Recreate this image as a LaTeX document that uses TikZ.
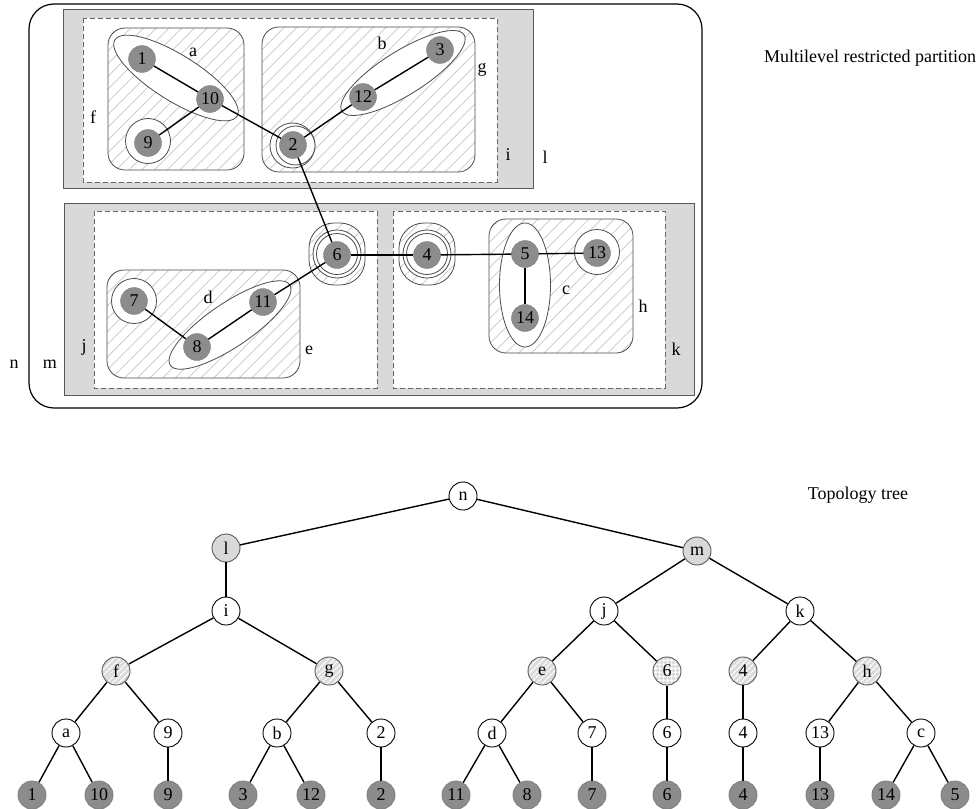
\documentclass[tikz,border=0pt]{standalone}
\usepackage{fontspec}
\setmainfont{Liberation Serif}
\usetikzlibrary{patterns.meta}
\begin{document}
\begin{tikzpicture}[x=1pt, y=-1pt,
        font=\fontsize{18}{20}\selectfont,
        vertex/.style={circle, fill=black!45, draw=black!50, minimum size=27pt, inner sep=0pt},
        link/.style={line width=1.4pt},
        ringwhite/.style={draw=black!70, line width=0.8pt, fill=white},
        hatched/.style={draw=black!70, line width=0.8pt, pattern={Lines[angle=45, distance=9pt, line width=0.7pt]}, pattern color=black!22},
        levelbox/.style={draw=black!65, line width=1pt, fill=black!15},
        partbox/.style={draw=black!60, line width=0.9pt, dash pattern=on 5pt off 3pt, fill=white},
        tnode/.style={circle, draw, fill=white, minimum size=28pt, inner sep=0pt, line width=0.9pt},
        tgray/.style={tnode, fill=black!15, draw=black!65},
        thatch/.style={tnode, draw=black!65, preaction={fill=black!14}, pattern={Lines[angle=45, distance=4pt, line width=1.3pt]}, pattern color=white},
        tcross/.style={tnode, draw=black!65, preaction={fill=black!14}, pattern={Hatch[distance=4pt, line width=1pt]}, pattern color=white},
        tleaf/.style={tnode, fill=black!45, draw=black!50}
    ]
        \useasboundingbox (0,0) rectangle (979,808);

        % partition, outer levels
        \draw[line width=1.2pt, rounded corners=25pt] (29,4) rectangle (702,408);
        \draw[levelbox] (63,10) rectangle (533,188);
        \draw[levelbox] (64,203) rectangle (694,395);
        \draw[partbox] (83,18) rectangle (497,182);
        \draw[partbox] (94,211) rectangle (377,388);
        \draw[partbox] (393,211) rectangle (665,388);

        % level 2 clusters
        \draw[hatched, rounded corners=17pt] (108,28) rectangle (244,170);
        \draw[hatched, rounded corners=17pt] (262,27) rectangle (475,172);
        \draw[hatched, rounded corners=17pt] (107,270) rectangle (300,378);
        \draw[hatched, rounded corners=17pt] (489,219) rectangle (633,353);
        \draw[hatched, rounded corners=25pt] (309,223) rectangle (365,285);
        \draw[hatched, rounded corners=25pt] (399,223) rectangle (455,285);

        % level 1 clusters
        \draw[ringwhite, rotate around={-32:(176,78)}] (176,78) ellipse [x radius=72pt, y radius=23pt];
        \draw[ringwhite] (148,141) circle [radius=22.5pt];
        \draw[ringwhite, rotate around={32:(403,73)}] (403,73) ellipse [x radius=72pt, y radius=22pt];
        \draw[ringwhite] (292.5,145.5) circle [radius=22.5pt];
        \draw[ringwhite] (295.5,145.5) circle [radius=19.5pt];
        \draw[ringwhite, rotate around={34:(230,325)}] (230,325) ellipse [x radius=72pt, y radius=22pt];
        \draw[ringwhite] (134,301) circle [radius=22.5pt];
        \draw[ringwhite] (525,285) ellipse [x radius=25.5pt, y radius=62pt];
        \draw[ringwhite] (597,252) circle [radius=22.5pt];
        \foreach \x in {337,427} {
            \draw[ringwhite] (\x,254) circle [radius=24pt];
            \draw[ringwhite] (\x,254) circle [radius=20.5pt];
        }

        % vertices
        \foreach \lab/\x/\y in {1/142/59, 10/210/99, 9/148/143, 2/293/145, 12/363/97, 3/440/50,
                6/337/255, 4/427/255, 5/525/254, 13/597/253, 14/525/318, 7/134/301, 11/263/302, 8/197/347} {
            \node[vertex] (v\lab) at (\x,\y) {\lab};
        }
        \foreach \a/\b in {1/10, 10/9, 10/2, 2/12, 12/3, 2/6, 6/11, 11/8, 8/7, 6/4, 4/5, 5/13, 5/14} {
            \draw[link] (v\a) -- (v\b);
        }

        % cluster labels
        \node (la) at (193,52) {a};
        \node (lb) at (382,43) {b};
        \node (lc) at (566,290) {c};
        \node (ld) at (208,297) {d};
        \node (le) at (309,350) {e};
        \node (lf) at (93,117) {f};
        \node (lg) at (482,70) {g};
        \node (lh) at (643,306) {h};
        \node (li) at (508,155) {i};
        \node (lj) at (84,347) {j};
        \node (lk) at (676,349) {k};
        \node (ll) at (545,157) {l};
        \node (lm) at (50,364) {m};
        \node (ln) at (14,364) {n};
        \node (partitiontitle) at (870,58) {Multilevel restricted partition};

        % topology tree
        \node (treetitle) at (858,495) {Topology tree};
        \node[tnode] (tn) at (463,496) {n};
        \node[tgray] (tl) at (226,548) {l};
        \node[tgray] (tm) at (697,551) {m};
        \node[tnode] (ti) at (226,611) {i};
        \node[tnode] (tj) at (604,611) {j};
        \node[tnode] (tk) at (800,611) {k};
        \node[thatch] (pf) at (116,671) {f};
        \node[thatch] (pg) at (329,671) {g};
        \node[thatch] (pe) at (542,671) {e};
        \node[tcross] (p6) at (667,671) {6};
        \node[thatch] (p4) at (743,671) {4};
        \node[thatch] (ph) at (867,671) {h};
        \foreach \nm/\lab/\x in {qa/a/66, q9/9/168, qb/b/277, q2/2/381, qd/d/492,
                q7/7/592, q6/6/667, q4/4/743, q13/13/820, qc/c/921} {
            \node[tnode] (\nm) at (\x,733) {\lab};
        }
        \foreach \lab/\x in {1/32, 10/99, 9/168, 3/243, 12/311, 2/381, 11/456,
                8/527, 7/592, 6/667, 4/743, 13/820, 14/886, 5/955} {
            \node[tleaf] (r\lab) at (\x,795) {\lab};
        }
        \foreach \a/\b in {tn/tl, tn/tm, tl/ti, tm/tj, tm/tk, ti/pf, ti/pg, tj/pe, tj/p6, tk/p4, tk/ph,
                pf/qa, pf/q9, pg/qb, pg/q2, pe/qd, pe/q7, p6/q6, p4/q4, ph/q13, ph/qc,
                qa/r1, qa/r10, q9/r9, qb/r3, qb/r12, q2/r2, qd/r11, qd/r8, q7/r7,
                q6/r6, q4/r4, q13/r13, qc/r14, qc/r5} {
            \draw[link] (\a) -- (\b);
        }
\end{tikzpicture}
\end{document}
